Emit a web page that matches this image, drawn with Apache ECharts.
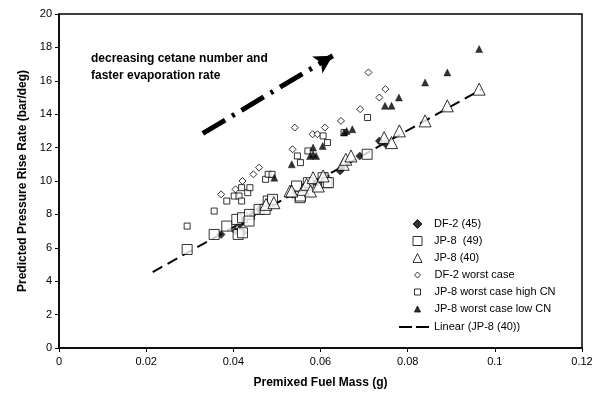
<!DOCTYPE html>
<html>
<head>
    <meta charset="UTF-8">
    <title>Predicted Pressure Rise Rate</title>
    <script src="https://cdn.jsdelivr.net/npm/echarts@6/dist/echarts.min.js"></script>
    <style>
        html, body {
            margin: 0;
            padding: 0;
            background: #fff;
        }

        #chart {
            width: 602px;
            height: 400px;
        }
    </style>
</head>
<body>
<div id="chart"></div>
<script>
    // values: [fuel mass (g), pressure rise rate (bar/deg)]
    var df2_45 = [
        [0.0372, 6.8], [0.0405, 7.0], [0.0423, 6.9], [0.0415, 7.4], [0.0421, 7.6], [0.0444, 8.0],
        [0.0460, 8.3], [0.0536, 9.2], [0.0540, 9.3], [0.0560, 9.6], [0.0575, 9.8], [0.0590, 9.9],
        [0.0600, 10.1], [0.0612, 10.3], [0.0645, 10.6], [0.0649, 10.8], [0.0690, 11.5],
        [0.0735, 12.4], [0.0750, 12.2]
    ];
    var jp8_49 = [
        [0.0294, 5.9], [0.0356, 6.8], [0.0385, 7.3], [0.0408, 7.7], [0.0421, 7.8], [0.0437, 8.0],
        [0.0436, 7.6], [0.0411, 6.8], [0.0421, 6.9], [0.0459, 8.3], [0.0473, 8.3], [0.0480, 8.8],
        [0.0490, 8.9], [0.0553, 9.0], [0.0554, 9.1], [0.0545, 9.7], [0.0572, 9.9], [0.0606, 10.2],
        [0.0614, 9.9], [0.0618, 9.9], [0.0707, 11.6]
    ];
    var jp8_40 = [
        [0.0475, 8.6], [0.0493, 8.7], [0.0530, 9.4], [0.0534, 9.4], [0.0560, 9.5], [0.0568, 9.8],
        [0.0577, 9.4], [0.0583, 10.2], [0.0595, 9.7], [0.0606, 10.3], [0.0652, 11.0], [0.0658, 11.3],
        [0.0670, 11.5], [0.0746, 12.6], [0.0763, 12.3], [0.0781, 13.0], [0.0840, 13.6],
        [0.0891, 14.5], [0.0964, 15.5]
    ];
    var df2_worst = [
        [0.0372, 9.2], [0.0405, 9.5], [0.0421, 10.0], [0.0446, 10.4], [0.0459, 10.8], [0.0536, 11.9],
        [0.0541, 13.2], [0.0582, 12.8], [0.0593, 12.8], [0.0610, 13.2], [0.0647, 13.6],
        [0.0691, 14.3], [0.0735, 15.0], [0.0749, 15.5], [0.0710, 16.5]
    ];
    var jp8_worst_high = [
        [0.0294, 7.3], [0.0356, 8.2], [0.0385, 8.8], [0.0402, 9.1], [0.0413, 9.1], [0.0419, 8.8],
        [0.0419, 9.6], [0.0433, 9.3], [0.0438, 9.6], [0.0474, 10.1], [0.0480, 10.4], [0.0489, 10.4],
        [0.0547, 11.5], [0.0554, 11.1], [0.0571, 11.8], [0.0616, 12.3], [0.0606, 12.7],
        [0.0654, 12.9], [0.0708, 13.8]
    ];
    var jp8_worst_low = [
        [0.0494, 10.2], [0.0534, 11.0], [0.0576, 11.5], [0.0583, 11.6], [0.0590, 11.5], [0.0583, 12.0],
        [0.0605, 12.1], [0.0654, 12.9], [0.0660, 13.0], [0.0673, 13.1], [0.0748, 14.5],
        [0.0763, 14.5], [0.0780, 15.0], [0.0840, 15.9], [0.0891, 16.5], [0.0964, 17.9]
    ];
    // trend line end points (Linear (JP-8 (40)))
    var trendX = [0.0215, 0.0970];
    var trendY = [4.55, 15.5];
    // annotation arrow start / end
    var arrowFrom = [0.0330, 12.85];
    var arrowTo = [0.0628, 17.5];

    var xTicks = [0, 0.02, 0.04, 0.06, 0.08, 0.1, 0.12];
    var yTicks = [0, 2, 4, 6, 8, 10, 12, 14, 16, 18, 20];

    var FONT = 'Liberation Sans, Arial, sans-serif';

    var openStyle = {color: '#fff', borderColor: '#000', borderWidth: 1};
    var fillStyle = {color: '#000', borderColor: '#000', borderWidth: 0.5};

    var chart = echarts.init(document.getElementById('chart'), null, {renderer: 'canvas'});

    var scatter = function (name, data, symbol, size, style) {
            return {
                name: name
                , type: 'scatter'
                , data: data
                , symbol: symbol
                , symbolSize: size
                , itemStyle: style
                , emphasis: {disabled: true}
            };
        },
        legendBox = function (names, left, top, size, extra) {
            var box = {
                orient: 'vertical'
                , left: left
                , top: top
                , padding: 0
                , itemWidth: size
                , itemHeight: size
                , itemGap: 6
                , selectedMode: false
                , itemStyle: {borderWidth: 1}
                , textStyle: {fontFamily: FONT, fontSize: 11, color: '#000', padding: [0, 0, 0, 7]}
                , data: names
            };
            return Object.assign(box, extra || {});
        };

    var option = {
        animation: false
        , backgroundColor: '#fff'
        , textStyle: {fontFamily: FONT, color: '#000'}
        , grid: {
            left: 59, right: 20, top: 14, bottom: 52
            , show: true
            , borderColor: '#000'
            , borderWidth: 1.5
            , backgroundColor: 'transparent'
        }
        , legend: [
            legendBox(['DF-2 (45)', 'JP-8  (49)', 'JP-8 (40)'], 412.5, 218.5, 9)
            , legendBox(['DF-2 worst case', 'JP-8 worst case high CN', 'JP-8 worst case low CN'], 414, 269.5, 6,
                {textStyle: {fontFamily: FONT, fontSize: 11, color: '#000', padding: [0, 0, 0, 9]}})
            , legendBox([{
                name: 'Linear (JP-8 (40))'
                , icon: 'path://M0,0H13V2H0Z M17,0H30V2H17Z'
                , itemStyle: {color: '#000'}
            }], 399, 321.5, 2, {
                itemWidth: 30
                , textStyle: {fontFamily: FONT, fontSize: 11, color: '#000'}
            })
        ]
        , graphic: [{
            type: 'text'
            , left: 91
            , top: 50
            , style: {
                text: 'decreasing cetane number and\nfaster evaporation rate'
                , font: 'bold 12px ' + FONT
                , lineHeight: 17
                , fill: '#000'
            }
        }]
        , xAxis: {
            type: 'value'
            , min: xTicks[0]
            , max: xTicks[xTicks.length - 1]
            , interval: 0.02
            , name: 'Premixed Fuel Mass (g)'
            , nameLocation: 'middle'
            , nameGap: 29
            , nameTextStyle: {fontFamily: FONT, fontSize: 12, fontWeight: 'bold', color: '#000'}
            , axisLine: {onZero: false, lineStyle: {color: '#000', width: 1.5}}
            , axisTick: {inside: false, length: 4, lineStyle: {color: '#000'}}
            , axisLabel: {fontFamily: FONT, fontSize: 11, color: '#000', margin: 8}
            , splitLine: {show: false}
        }
        , yAxis: {
            type: 'value'
            , min: yTicks[0]
            , max: yTicks[yTicks.length - 1]
            , interval: 2
            , name: 'Predicted Pressure Rise Rate (bar/deg)'
            , nameLocation: 'middle'
            , nameGap: 30
            , nameTextStyle: {fontFamily: FONT, fontSize: 12, fontWeight: 'bold', color: '#000'}
            , axisLine: {onZero: false, lineStyle: {color: '#000', width: 1.5}}
            , axisTick: {inside: false, length: 4, lineStyle: {color: '#000'}}
            , axisLabel: {fontFamily: FONT, fontSize: 11, color: '#000', margin: 7}
            , splitLine: {show: false}
        }
        , series: [
            scatter('DF-2 (45)', df2_45, 'diamond', 8, fillStyle)
            , scatter('JP-8  (49)', jp8_49, 'rect', 10, openStyle)
            , scatter('JP-8 (40)', jp8_40, 'triangle', 12, openStyle)
            , scatter('DF-2 worst case', df2_worst, 'diamond', 7, openStyle)
            , scatter('JP-8 worst case high CN', jp8_worst_high, 'rect', 6, openStyle)
            , scatter('JP-8 worst case low CN', jp8_worst_low, 'triangle', 7, fillStyle)
            , {
                name: 'Linear (JP-8 (40))'
                , type: 'line'
                , data: trendX.map(function (x, i) {
                    return [x, trendY[i]];
                })
                , symbol: 'none'
                , lineStyle: {color: '#000', width: 2, type: [11, 6]}
                , itemStyle: {color: '#000'}
                , z: 1
                , emphasis: {disabled: true}
            }
            , {
                name: 'arrow'
                , type: 'line'
                , data: []
                , silent: true
                , markLine: {
                    silent: true
                    , symbol: ['none', 'arrow']
                    , symbolSize: [15, 18]
                    , label: {show: false}
                    , lineStyle: {color: '#000', width: 5, type: [26, 8, 3, 8]}
                    , data: [[{coord: arrowFrom}, {coord: arrowTo}]]
                }
            }
        ]
    };

    chart.setOption(option);
</script>
</body>
</html>
